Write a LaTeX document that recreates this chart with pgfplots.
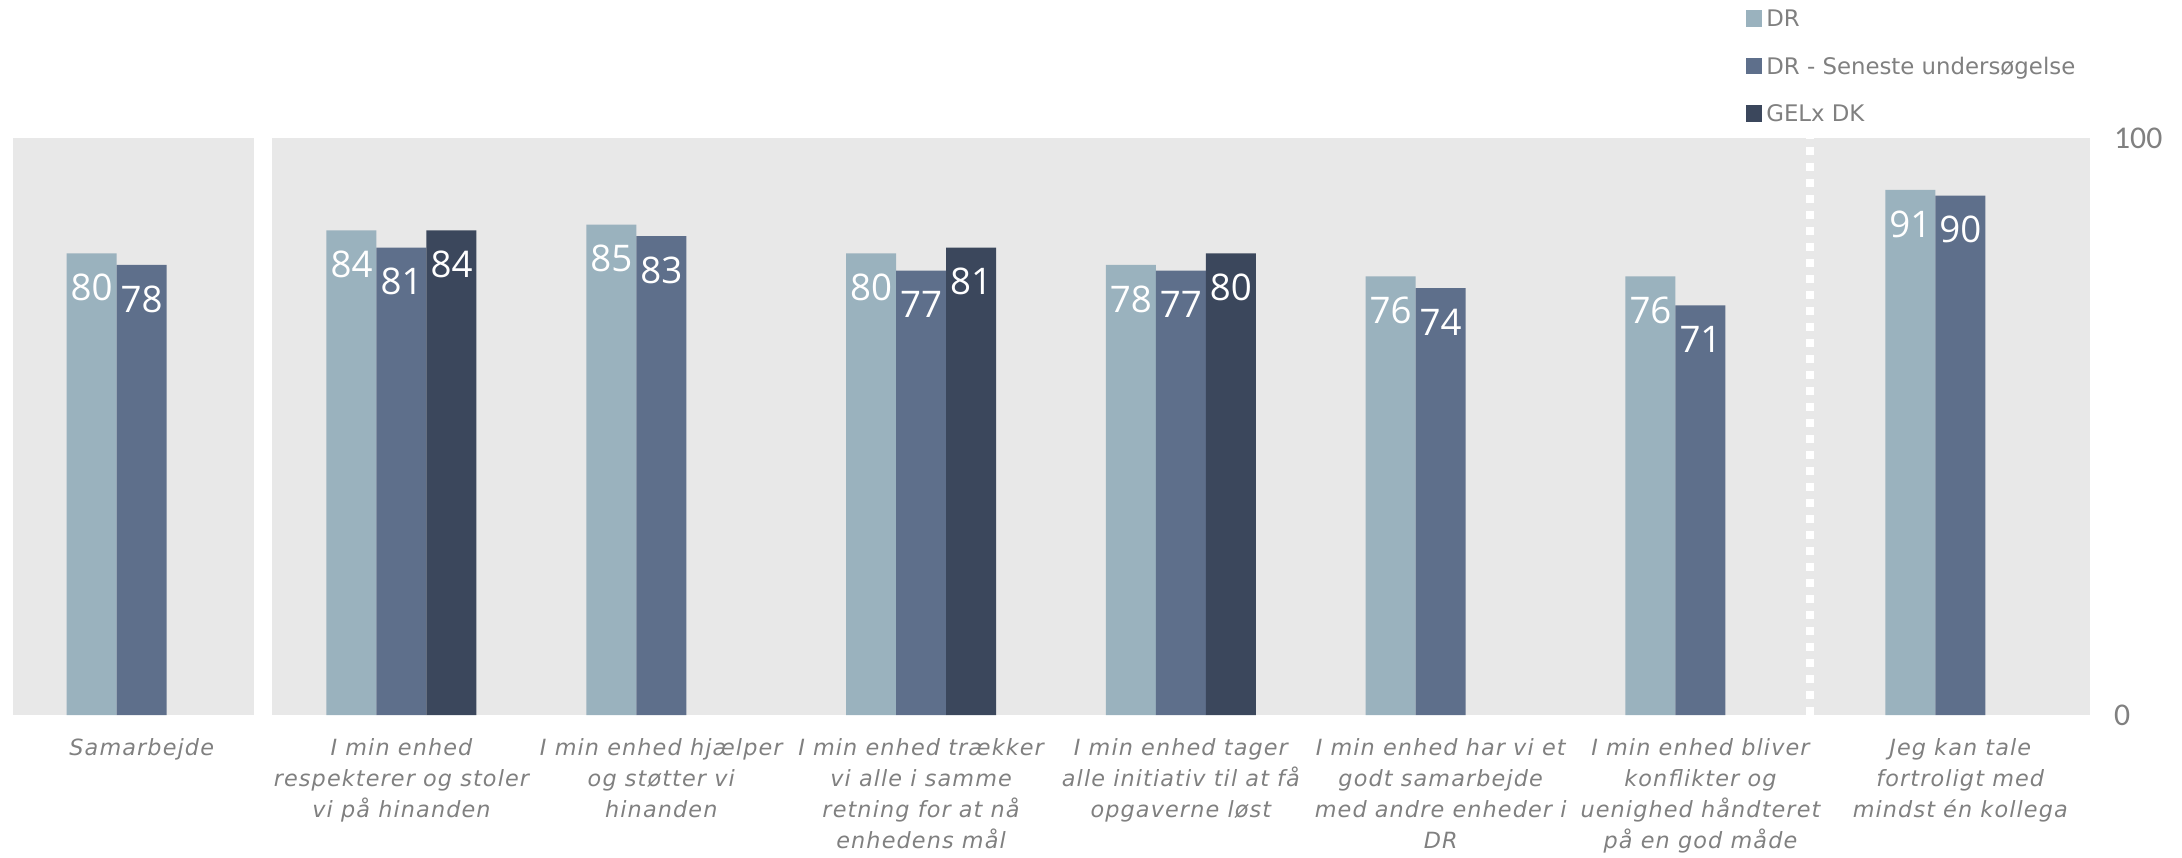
\documentclass[border=0pt]{standalone}
\usepackage{pgfplots}
\pgfplotsset{compat=1.18}
\usepackage{fontspec}
\setmainfont{DejaVu Sans}
\newfontfamily\lblfont[LetterSpace=5]{DejaVu Sans}
\newfontfamily\legfont{DejaVu Sans}
\newfontfamily\numfont{Open Sans}
\newfontfamily\tickfont{Carlito}
\definecolor{cA}{HTML}{9AB2BE}
\definecolor{cB}{HTML}{5E6F8B}
\definecolor{cC}{HTML}{3B475C}
\definecolor{bg}{HTML}{E8E8E8}
\definecolor{txt}{HTML}{808080}
\begin{document}
\begin{tikzpicture}
\begin{axis}[
  at={(3.54pt,42.6pt)}, anchor=south west,
  scale only axis, width=623.5pt, height=173.1pt,
  xmin=-0.5, xmax=7.5, ymin=0, ymax=100,
  set layers,
  ybar, bar width=15pt,
  axis line style={draw=none},
  major tick length=0pt,
  /pgf/number format/assume math mode=true,
  xtick={0,1,2,3,4,5,6,7},
  xticklabels={
    {Samarbejde},
    {I min enhed\\respekterer og stoler\\vi på hinanden},
    {I min enhed hjælper\\og støtter vi\\hinanden},
    {I min enhed trækker\\vi alle i samme\\retning for at nå\\enhedens mål},
    {I min enhed tager\\alle initiativ til at få\\opgaverne løst},
    {I min enhed har vi et\\godt samarbejde\\med andre enheder i\\DR},
    {I min enhed bliver\\konflikter og\\uenighed håndteret\\på en god måde},
    {Jeg kan tale\\fortroligt med\\mindst én kollega}},
  xticklabel style={font=\fontsize{6.7}{9.3}\selectfont\lblfont\itshape, text=txt, align=center, anchor=north, inner sep=0pt, yshift=-6.9pt},
  ytick={0,100},
  yticklabels={0,100},
  yticklabel pos=right,
  yticklabel style={font=\fontsize{9.5}{10}\selectfont\tickfont, text=txt, anchor=west, inner sep=0pt, xshift=7pt},
  legend style={at={(0.8344,1.2218)}, anchor=north west, draw=none, fill=none, inner sep=0pt, outer sep=0pt,
    font=\fontsize{6.85}{8}\selectfont\legfont, text=txt, row sep=9.25pt, column sep=1.3pt,
    nodes={inner sep=0pt, text height=5pt, text depth=0pt}},
  legend cell align=left,
  legend image code/.code={\fill[#1, draw=none] (0pt,-2.45pt) rectangle (4.8pt,2.45pt);},
  nodes near coords,
  every node near coord/.append style={font=\fontsize{11}{13}\selectfont\numfont, text=white, anchor=north, yshift=-6pt, inner sep=0pt},
]
\begin{pgfonlayer}{axis background}
\fill[bg] (axis cs:-0.4965,0) rectangle (axis cs:0.432,100);
\fill[bg] (axis cs:0.502,0) rectangle (axis cs:7.5,100);
\draw[white, line width=2.4pt, dash pattern=on 2.4pt off 2.4pt] (axis cs:6.42,0) -- (axis cs:6.42,100);
\end{pgfonlayer}
\addplot[fill=cA, draw=none, bar shift=-15pt] coordinates {(0,80) (1,84) (2,85) (3,80) (4,78) (5,76) (6,76) (7,91)};
\addlegendentry{DR}
\addplot[fill=cB, draw=none, bar shift=0pt] coordinates {(0,78) (1,81) (2,83) (3,77) (4,77) (5,74) (6,71) (7,90)};
\addlegendentry{DR - Seneste undersøgelse}
\addplot[fill=cC, draw=none, bar shift=15pt] coordinates {(1,84) (3,81) (4,80)};
\addlegendentry{GELx DK}
\end{axis}
\pgfresetboundingbox
\useasboundingbox (0,0) rectangle (654.6pt,257.1pt);
\end{tikzpicture}
\end{document}
